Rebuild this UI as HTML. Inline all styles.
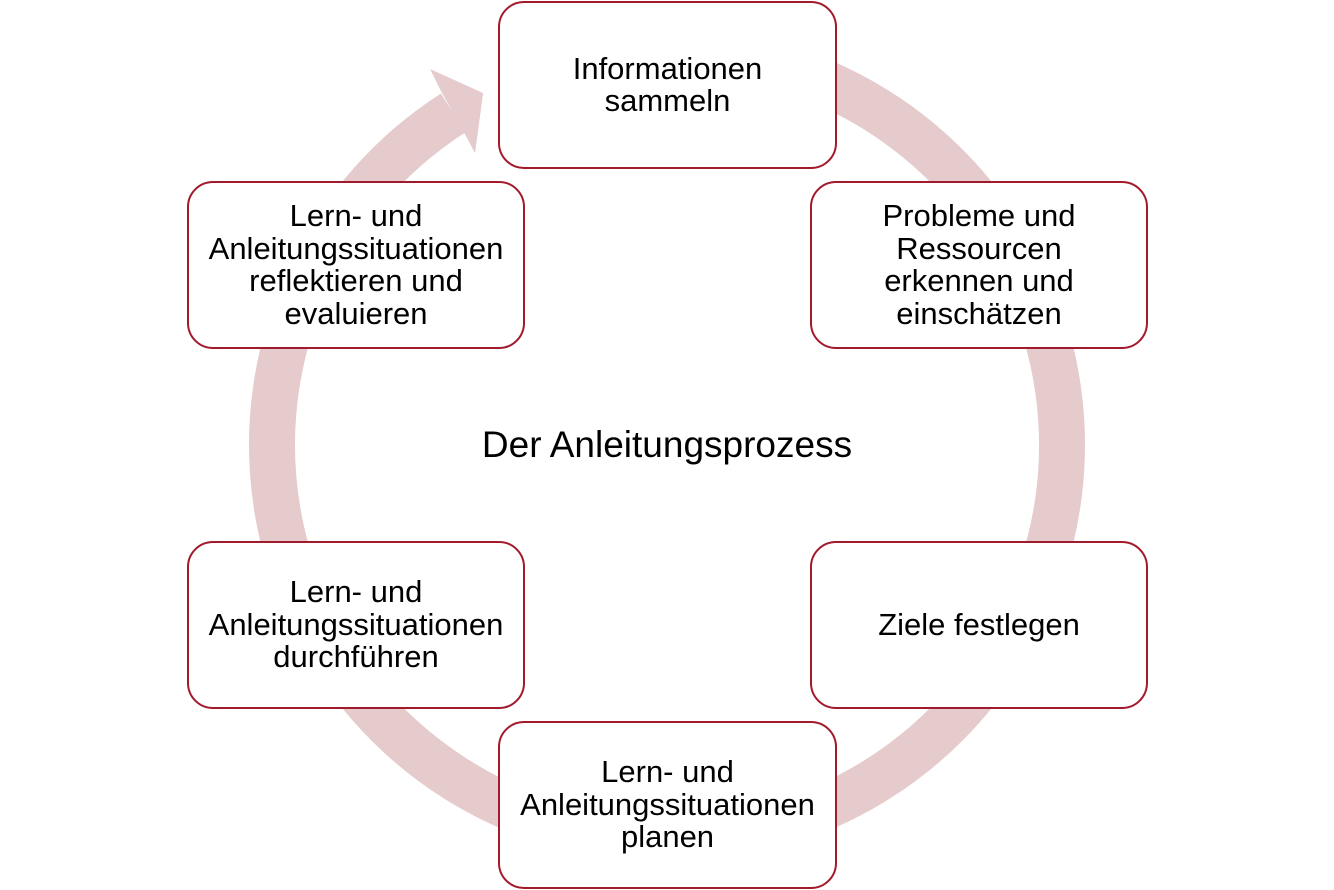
<!DOCTYPE html>
<html><head><meta charset="utf-8"><style>
body{margin:0;width:1334px;height:890px;background:#fff;position:relative;overflow:hidden;font-family:"Liberation Sans",Arial,sans-serif}
.b{position:absolute;width:334px;height:164px;border:2px solid #a21a2b;border-radius:26px;background:#fff;display:flex;align-items:center;justify-content:center;text-align:center;font-size:31px;line-height:32.5px;color:#000;box-sizing:border-box}
.t{position:absolute;left:0;width:1334px;top:424px;text-align:center;font-size:37px;line-height:42px}
</style></head><body>
<svg width="1334" height="890" style="position:absolute;left:0;top:0">
<path d="M667 50 A395 395 0 1 1 453.3 112.8" fill="none" stroke="#e5cbcc" stroke-width="46"/>
<polygon points="430,69 483,93 475,153 464,132 442,93" fill="#e5cbcc"/>
<polygon points="436,80 464,132 475,153 483,93" fill="#e5cbcc"/>
</svg>
<div class="b" style="left:498px;top:1px;width:339px;height:168px">Informationen<br>sammeln</div>
<div class="b" style="left:810px;top:181px;width:338px;height:168px">Probleme und<br>Ressourcen<br>erkennen und<br>einschätzen</div>
<div class="b" style="left:810px;top:541px;width:338px;height:168px">Ziele festlegen</div>
<div class="b" style="left:498px;top:721px;width:339px;height:168px">Lern- und<br>Anleitungssituationen<br>planen</div>
<div class="b" style="left:187px;top:541px;width:338px;height:168px">Lern- und<br>Anleitungssituationen<br>durchführen</div>
<div class="b" style="left:187px;top:181px;width:338px;height:168px">Lern- und<br>Anleitungssituationen<br>reflektieren und<br>evaluieren</div>
<div class="t">Der Anleitungsprozess</div>
</body></html>
